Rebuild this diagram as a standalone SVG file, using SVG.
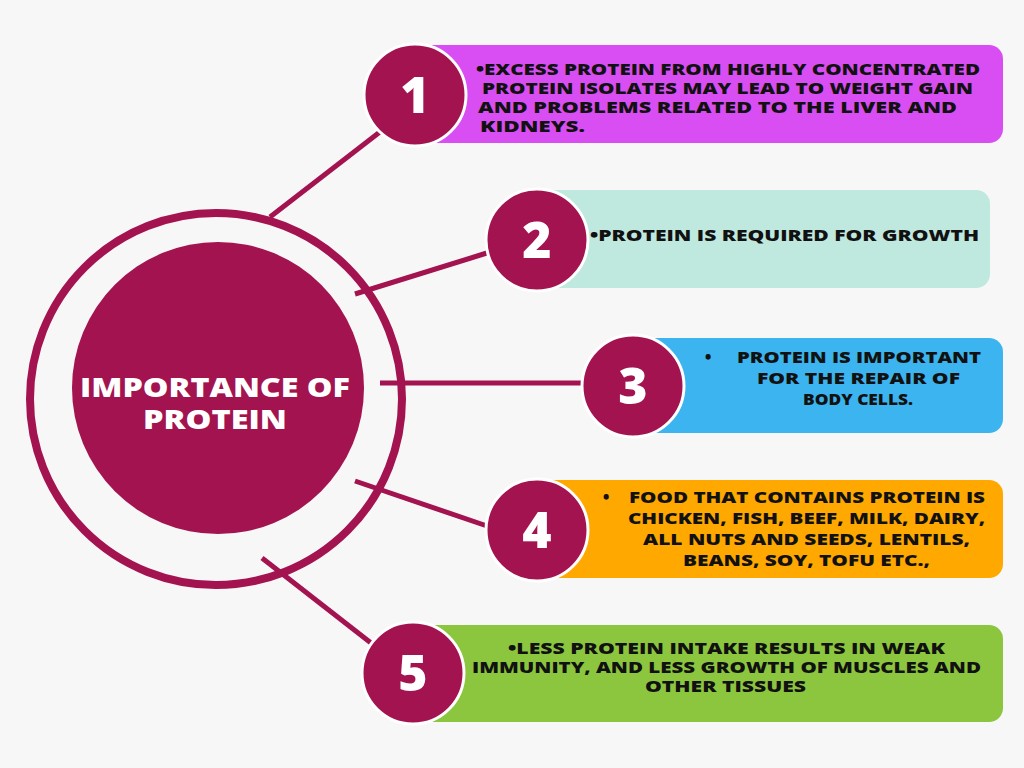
<svg xmlns="http://www.w3.org/2000/svg" width="1024" height="768" viewBox="0 0 1024 768">
<style>
.t{font-family:"Open Sans","Liberation Sans",Arial,sans-serif;font-weight:800;font-size:16px;fill:#111}
.n{font-family:"Open Sans","Liberation Sans",Arial,sans-serif;font-weight:800;font-size:50px;fill:#fff;text-anchor:middle}
.c{fill:#a3134f;stroke:#fff;stroke-width:3}
.l{stroke:#a3134f;stroke-width:5}
</style>
<rect width="1024" height="768" fill="#f7f7f7"/>
<g id="connectors">
<line class="l" x1="270" y1="217" x2="385" y2="128"/>
<line class="l" x1="355" y1="294" x2="490" y2="252"/>
<line class="l" x1="380" y1="383" x2="585" y2="383"/>
<line class="l" x1="355" y1="481" x2="490" y2="527"/>
<line class="l" x1="262" y1="558" x2="380" y2="650"/>
</g>
<g id="center">
<circle cx="216" cy="399" r="186" fill="none" stroke="#a3134f" stroke-width="8"/>
<circle cx="218" cy="388" r="146" fill="#a3134f"/>
<text x="80" y="397" fill="#fff" font-family="Open Sans,Liberation Sans,Arial,sans-serif" font-weight="800" font-size="27" textLength="270" lengthAdjust="spacingAndGlyphs">IMPORTANCE OF</text>
<text x="143" y="429" fill="#fff" font-family="Open Sans,Liberation Sans,Arial,sans-serif" font-weight="800" font-size="27" textLength="144" lengthAdjust="spacingAndGlyphs">PROTEIN</text>
</g>
<g id="item1">
<rect x="400" y="45" width="603" height="98" rx="14" fill="#d94ef2"/>
<circle class="c" cx="415" cy="95" r="51"/><text class="n" x="415" y="113">1</text>
<text class="t" x="476" y="75" textLength="504" lengthAdjust="spacingAndGlyphs">•EXCESS PROTEIN FROM HIGHLY CONCENTRATED</text>
<text class="t" x="482" y="94" textLength="491" lengthAdjust="spacingAndGlyphs">PROTEIN ISOLATES MAY LEAD TO WEIGHT GAIN</text>
<text class="t" x="478" y="113" textLength="479" lengthAdjust="spacingAndGlyphs">AND PROBLEMS RELATED TO THE LIVER AND</text>
<text class="t" x="480" y="132" textLength="105" lengthAdjust="spacingAndGlyphs">KIDNEYS.</text>
</g>
<g id="item2">
<rect x="530" y="190" width="460" height="98" rx="14" fill="#bfe8de"/>
<circle class="c" cx="537" cy="240" r="51"/><text class="n" x="537" y="258">2</text>
<text class="t" x="590" y="241" textLength="389" lengthAdjust="spacingAndGlyphs">•PROTEIN IS REQUIRED FOR GROWTH</text>
</g>
<g id="item3">
<rect x="620" y="338" width="383" height="95" rx="14" fill="#3bb4ef"/>
<circle class="c" cx="633" cy="386" r="51"/><text class="n" x="633" y="404">3</text>
<text class="t" x="705" y="363">•</text>
<text class="t" x="737" y="363" textLength="244" lengthAdjust="spacingAndGlyphs">PROTEIN IS IMPORTANT</text>
<text class="t" x="757" y="384" textLength="203" lengthAdjust="spacingAndGlyphs">FOR THE REPAIR OF</text>
<text class="t" x="803" y="405" textLength="110" lengthAdjust="spacingAndGlyphs">BODY CELLS.</text>
</g>
<g id="item4">
<rect x="530" y="480" width="473" height="98" rx="14" fill="#ffa800"/>
<circle class="c" cx="537" cy="530" r="51"/><text class="n" x="537" y="548">4</text>
<text class="t" x="603" y="503">•</text>
<text class="t" x="629" y="503" textLength="356" lengthAdjust="spacingAndGlyphs">FOOD THAT CONTAINS PROTEIN IS</text>
<text class="t" x="628" y="524" textLength="357" lengthAdjust="spacingAndGlyphs">CHICKEN, FISH, BEEF, MILK, DAIRY,</text>
<text class="t" x="643" y="545" textLength="327" lengthAdjust="spacingAndGlyphs">ALL NUTS AND SEEDS, LENTILS,</text>
<text class="t" x="683" y="566" textLength="247" lengthAdjust="spacingAndGlyphs">BEANS, SOY, TOFU ETC.,</text>
</g>
<g id="item5">
<rect x="405" y="625" width="598" height="97" rx="14" fill="#8cc63f"/>
<circle class="c" cx="413" cy="673" r="51"/><text class="n" x="413" y="691">5</text>
<text class="t" x="508" y="654" textLength="437" lengthAdjust="spacingAndGlyphs">•LESS PROTEIN INTAKE RESULTS IN WEAK</text>
<text class="t" x="472" y="673" textLength="509" lengthAdjust="spacingAndGlyphs">IMMUNITY, AND LESS GROWTH OF MUSCLES AND</text>
<text class="t" x="645" y="692" textLength="161" lengthAdjust="spacingAndGlyphs">OTHER TISSUES</text>
</g>
</svg>
